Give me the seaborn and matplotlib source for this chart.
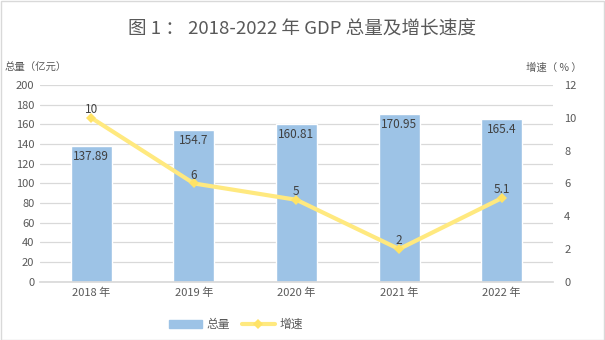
import matplotlib
matplotlib.use("Agg")
import matplotlib.pyplot as plt
import seaborn as sns
import pandas as pd
from matplotlib.patches import Rectangle, Patch
from matplotlib.lines import Line2D

years = ["2018 年", "2019 年", "2020 年", "2021 年", "2022 年"]
gdp = [137.89, 154.7, 160.81, 170.95, 165.4]
gdp_labels = ["137.89", "154.7", "160.81", "170.95", "165.4"]
growth = [10, 6, 5, 2, 5.1]
growth_labels = ["10", "6", "5", "2", "5.1"]
left_ticks = [0, 20, 40, 60, 80, 100, 120, 140, 160, 180, 200]
right_ticks = [0, 2, 4, 6, 8, 10, 12]

sns.set_theme(style="white")
plt.rcParams['font.family'] = ['Noto Sans CJK SC', 'DejaVu Sans']

txt = "#595959"
bar_c = "#9DC3E6"
line_c = "#FFE97F"
fig = plt.figure(figsize=(6.05, 3.4), dpi=100)
ax = fig.add_axes([0.066, 0.171, 0.848, 0.579])

df = pd.DataFrame({"year": years, "gdp": gdp})
sns.barplot(data=df, x="year", y="gdp", color=bar_c, saturation=1, width=0.4, ax=ax)
ax.set_ylim(0, 200)
ax.set_yticks(left_ticks)
ax.yaxis.grid(True, color="#D9D9D9", linewidth=0.9)
ax.set_axisbelow(True)
for s in ax.spines.values():
    s.set_visible(False)
ax.spines['bottom'].set_visible(True)
ax.spines['bottom'].set_color("#D9D9D9")
ax.set_xlabel("")
ax.set_ylabel("")
ax.tick_params(axis='both', colors=txt, labelsize=8, length=0, pad=4)
for i, (v, lab) in enumerate(zip(gdp, gdp_labels)):
    ax.text(i, v - 4, lab, ha="center", va="top", fontsize=8.5, color="#404040")

ax2 = ax.twinx()
xs = list(range(len(years)))
sns.lineplot(x=xs, y=growth, ax=ax2, color=line_c, linewidth=3, marker="D",
             markersize=5, markeredgewidth=0, markerfacecolor="#FFE366")
ax2.set_ylim(0, 12)
ax2.set_yticks(right_ticks)
for s in ax2.spines.values():
    s.set_visible(False)
ax2.tick_params(axis='y', colors=txt, labelsize=8, length=0, pad=8)
ax2.set_ylabel("")
ax.set_xlim(-0.5, 4.5)
for x, v, lab in zip(xs, growth, growth_labels):
    ax2.text(x, v + 0.5, lab, ha="center", va="center", fontsize=8.5, color="#404040")

fig.text(0.5, 0.912, "图 1 ： 2018-2022 年 GDP 总量及增长速度", ha="center", va="center",
         fontsize=13.4, color=txt)
fig.text(0.008, 0.80, "总量（亿元）", ha="left", va="center", fontsize=7.5, color=txt)
fig.text(0.962, 0.80, "增速（ % ）", ha="right", va="center", fontsize=7.5, color=txt)

handles = [Patch(color=bar_c),
           Line2D([0], [0], color=line_c, lw=3, marker="D", markersize=5,
                  markerfacecolor="#FFE366", markeredgewidth=0)]
fig.legend(handles, ["总量", "增速"], loc="center", bbox_to_anchor=(0.39, 0.045), ncol=2,
           frameon=False, fontsize=8.5, labelcolor=txt, handlelength=2.8, columnspacing=1.0,
           handletextpad=0.4)

fig.patches.append(Rectangle((0.001, 0.001), 0.997, 0.997, transform=fig.transFigure,
                             fill=False, edgecolor="#D9D9D9", linewidth=1))
fig.savefig("out.png", dpi=100)
